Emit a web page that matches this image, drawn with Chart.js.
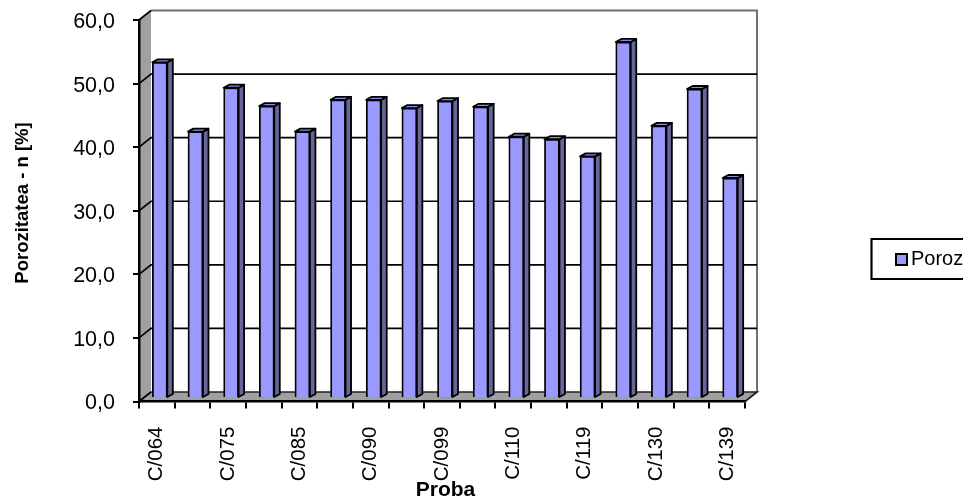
<!DOCTYPE html>
<html>
<head>
<meta charset="utf-8">
<title>Porozitatea</title>
<script src="https://cdn.jsdelivr.net/npm/chart.js@4"></script>
<style>
  html, body { margin: 0; padding: 0; background: #fff; }
  canvas { display: block; }
</style>
</head>
<body>
<canvas id="chart" width="963" height="504" style="width:963px;height:504px"></canvas>
<script>
// only every second sample name can be read on the axis
const categories = ['C/064', '', 'C/075', '', 'C/085', '', 'C/090', '', 'C/099', '', 'C/110', '', 'C/119', '', 'C/130', '', 'C/139'];
const porozitate = [52.8, 41.9, 48.8, 45.9, 41.9, 46.9, 46.9, 45.6, 46.7, 45.8, 41.1, 40.7, 38.0, 56.0, 42.8, 48.6, 34.6];
const seriesName = 'Poroz';
const xTitle = 'Proba';
const yTitle = 'Porozitatea - n [%]';

const FONT = '"Liberation Sans", Arial, sans-serif';
const wallDx = 12, wallDy = -9.5;   // back wall offset
const barDx = 3, barDy = -3.5;      // plane of the bars
const sideDx = 5.5, sideDy = -3;    // bar depth

const fake3d = {
  id: 'fake3d',
  beforeDraw(chart) {
    const ctx = chart.ctx, { left, right, top, bottom } = chart.chartArea;
    const y = chart.scales.y;
    ctx.save();
    // left wall
    ctx.fillStyle = '#a0a0a0';
    ctx.beginPath();
    ctx.moveTo(left, bottom);
    ctx.lineTo(left + wallDx, bottom + wallDy);
    ctx.lineTo(left + wallDx, top + wallDy);
    ctx.lineTo(left, top);
    ctx.closePath();
    ctx.fill();
    // floor
    ctx.beginPath();
    ctx.moveTo(left, bottom);
    ctx.lineTo(left + wallDx, bottom + wallDy);
    ctx.lineTo(right + wallDx, bottom + wallDy);
    ctx.lineTo(right, bottom);
    ctx.closePath();
    ctx.fill();
    // back wall outline
    ctx.strokeStyle = '#707070';
    ctx.lineWidth = 2;
    ctx.beginPath();
    ctx.moveTo(left + wallDx, top + wallDy);
    ctx.lineTo(right + wallDx, top + wallDy);
    ctx.lineTo(right + wallDx, bottom + wallDy);
    ctx.stroke();
    // grid lines, round the left wall and along the back
    ctx.strokeStyle = '#000';
    y.ticks.forEach(t => {
      const py = y.getPixelForValue(t.value);
      ctx.lineWidth = 1.7;
      ctx.beginPath();
      ctx.moveTo(left, py);
      ctx.lineTo(left + wallDx, py + wallDy);
      if (t.value > 0 && t.value < 60) ctx.lineTo(right + wallDx, py + wallDy);
      ctx.stroke();
    });
    ctx.beginPath();
    ctx.moveTo(left + wallDx, bottom + wallDy);
    ctx.lineTo(right + wallDx, bottom + wallDy);
    ctx.lineTo(right, bottom);
    ctx.strokeStyle = '#222';
    ctx.stroke();
    ctx.restore();
  },
  beforeDatasetsDraw(chart) {
    const ctx = chart.ctx;
    ctx.save();
    ctx.translate(barDx, barDy);
    chart.getDatasetMeta(0).data.forEach(bar => {
      const r = bar.x + bar.width / 2, l = bar.x - bar.width / 2;
      ctx.lineWidth = 1.8;
      ctx.strokeStyle = '#000';
      ctx.lineJoin = 'round';
      // side
      ctx.fillStyle = '#666699';
      ctx.beginPath();
      ctx.moveTo(r, bar.y);
      ctx.lineTo(r + sideDx, bar.y + sideDy);
      ctx.lineTo(r + sideDx, bar.base + sideDy);
      ctx.lineTo(r, bar.base);
      ctx.closePath();
      ctx.fill();
      ctx.stroke();
      // top
      ctx.fillStyle = '#8a8ae6';
      ctx.beginPath();
      ctx.moveTo(l, bar.y);
      ctx.lineTo(l + sideDx, bar.y + sideDy);
      ctx.lineTo(r + sideDx, bar.y + sideDy);
      ctx.lineTo(r, bar.y);
      ctx.closePath();
      ctx.fill();
      ctx.stroke();
    });
  },
  afterDatasetsDraw(chart) {
    chart.ctx.restore();
  },
  afterDraw(chart) {
    const ctx = chart.ctx;
    ctx.save();
    // axis titles sit off-centre in the original
    ctx.fillStyle = '#000';
    ctx.textAlign = 'center';
    ctx.textBaseline = 'middle';
    ctx.font = 'bold 21px ' + FONT;
    ctx.fillText(xTitle, 445.5, 490);
    ctx.save();
    ctx.translate(23, 203);
    ctx.rotate(-Math.PI / 2);
    ctx.font = 'bold 18.5px ' + FONT;
    ctx.fillText(yTitle, 0, 0);
    ctx.restore();
    // legend box runs off the right edge
    ctx.textAlign = 'left';
    ctx.strokeStyle = '#000';
    ctx.lineWidth = 2.2;
    ctx.beginPath();
    ctx.moveTo(964, 239);
    ctx.lineTo(871.5, 239);
    ctx.lineTo(871.5, 279);
    ctx.lineTo(964, 279);
    ctx.stroke();
    ctx.fillStyle = '#9999ff';
    ctx.fillRect(896, 254, 11, 11);
    ctx.lineWidth = 2;
    ctx.strokeRect(896, 254, 11, 11);
    ctx.fillStyle = '#000';
    ctx.font = '20px ' + FONT;
    ctx.fillText(seriesName, 911, 259.5);
    ctx.restore();
  }
};

new Chart(document.getElementById('chart'), {
  type: 'bar',
  data: {
    labels: categories,
    datasets: [{
      label: seriesName,
      data: porozitate,
      backgroundColor: '#9999ff',
      borderColor: '#000',
      borderWidth: 1.8,
      barThickness: 15,
      clip: false
    }]
  },
  options: {
    responsive: false,
    animation: false,
    layout: { padding: { top: 20, right: 218, left: 0, bottom: 0 } },
    plugins: { legend: { display: false }, tooltip: { enabled: false } },
    scales: {
      x: {
        afterFit(s) { s.height = 102.5; s.paddingLeft = 0; s.paddingRight = 0; },
        grid: { offset: true, drawOnChartArea: false, color: '#000', lineWidth: 2, tickLength: 7 },
        border: { color: '#000', width: 2.5 },
        ticks: {
          autoSkip: false, minRotation: 90, maxRotation: 90, padding: 18,
          color: '#000', font: { family: FONT, size: 20.5 }
        }
      },
      y: {
        min: 0, max: 60,
        afterFit(s) { s.width = 139; s.paddingTop = 0; s.paddingBottom = 0; },
        grid: { drawOnChartArea: false, color: '#000', lineWidth: 2, tickLength: 6 },
        border: { color: '#000', width: 2.5 },
        ticks: {
          stepSize: 10, padding: 18, labelOffset: 2, color: '#000', font: { family: FONT, size: 21.5 },
          callback: v => v.toFixed(1).replace('.', ',')
        }
      }
    }
  },
  plugins: [fake3d]
});
</script>
</body>
</html>
